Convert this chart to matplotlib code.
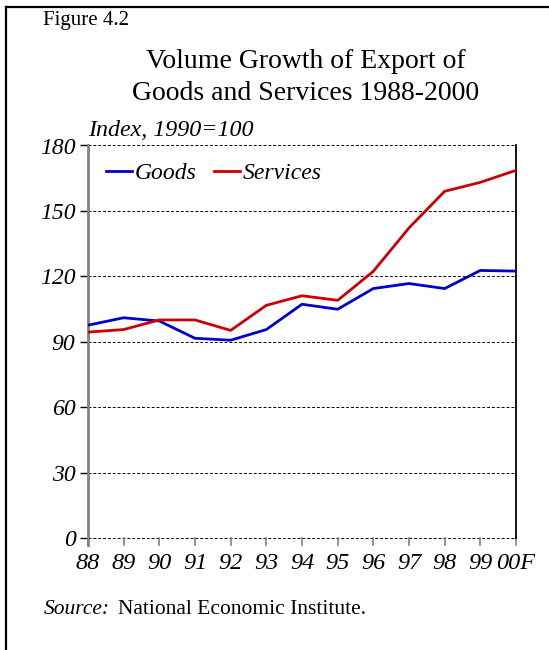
import matplotlib.pyplot as plt
from matplotlib.lines import Line2D

# export volume index, 1990 = 100
years = ["88", "89", "90", "91", "92", "93", "94", "95", "96", "97", "98", "99", "00F"]
goods = [97.6, 101.0, 99.5, 91.6, 90.7, 95.6, 107.2, 104.9, 114.4, 116.7, 114.4, 122.7, 122.4]
services = [94.4, 95.6, 100.0, 100.0, 95.2, 106.7, 111.1, 109.0, 122.3, 142.2, 159.0, 163.1, 168.6]
y_ticks = [0, 30, 60, 90, 120, 150, 180]

plt.rcParams["font.family"] = ["Liberation Serif", "DejaVu Serif"]

fig = plt.figure(figsize=(5.49, 6.5), dpi=100)
W, H = 549, 650

# frame lines on the left and top edges of the page
fig.add_artist(Line2D([6 / W, 6 / W], [0, 1 - 7 / H], color="black", lw=1.6))
fig.add_artist(Line2D([6 / W, 1], [1 - 7 / H, 1 - 7 / H], color="black", lw=1.6))

fig.text(43 / W, 1 - 20 / H, "Figure 4.2", fontsize=15, ha="left", va="center")
fig.text(306 / W, 1 - 61 / H, "Volume Growth of Export of", fontsize=20, ha="center", va="center")
fig.text(306 / W, 1 - 93 / H, "Goods and Services 1988-2000", fontsize=20, ha="center", va="center")
fig.text(88 / W, 1 - 130 / H, "Index, 1990=100", fontsize=17.3, style="italic", ha="left", va="center")

ax = fig.add_axes([88 / W, 1 - 538 / H, 428 / W, 392.5 / H])
x = range(len(years))
ax.plot(x, goods, color="#0000CC", lw=2.0, label="Goods", zorder=3)
ax.plot(x, services, color="#CC0000", lw=2.0, label="Services", zorder=3)

ax.set_xlim(0, len(years) - 1)
ax.set_ylim(0, 180)

for v in y_ticks:
    ax.axhline(v, color="black", lw=0.7, ls=(0, (3, 2)), zorder=1, clip_on=False)

ax.spines["top"].set_visible(False)
ax.spines["bottom"].set_visible(False)
ax.spines["left"].set_color("#808080")
ax.spines["left"].set_linewidth(2)
ax.spines["left"].set_bounds(-3, 180)
ax.spines["right"].set_linewidth(1.3)

ax.set_yticks(y_ticks)
ax.set_yticklabels([str(v) for v in y_ticks], fontsize=17, style="italic")
ax.set_xticks(list(x))
ax.set_xticklabels(years, fontsize=17.5, style="italic")
ax.tick_params(axis="y", direction="out", length=6, width=1, pad=3)
ax.tick_params(axis="x", direction="in", length=0, pad=11)
# small gray marks hanging down from the zero line
for i in x:
    ax.plot([i, i], [0, -3], color="#808080", lw=1.2, clip_on=False, zorder=2)

ax.legend(loc="upper left", ncol=2, frameon=False,
          prop={"style": "italic", "size": 17},
          handlelength=1.1, handletextpad=0.1, columnspacing=0.75,
          bbox_to_anchor=(0.02, 0.98), borderaxespad=0)

fig.text(44 / W, 1 - 610 / H, "Source:", fontsize=15.5, style="italic", ha="left", va="center")
fig.text(118 / W, 1 - 610 / H, "National Economic Institute.", fontsize=15.5, ha="left", va="center")

fig.savefig("out.png", dpi=100)
